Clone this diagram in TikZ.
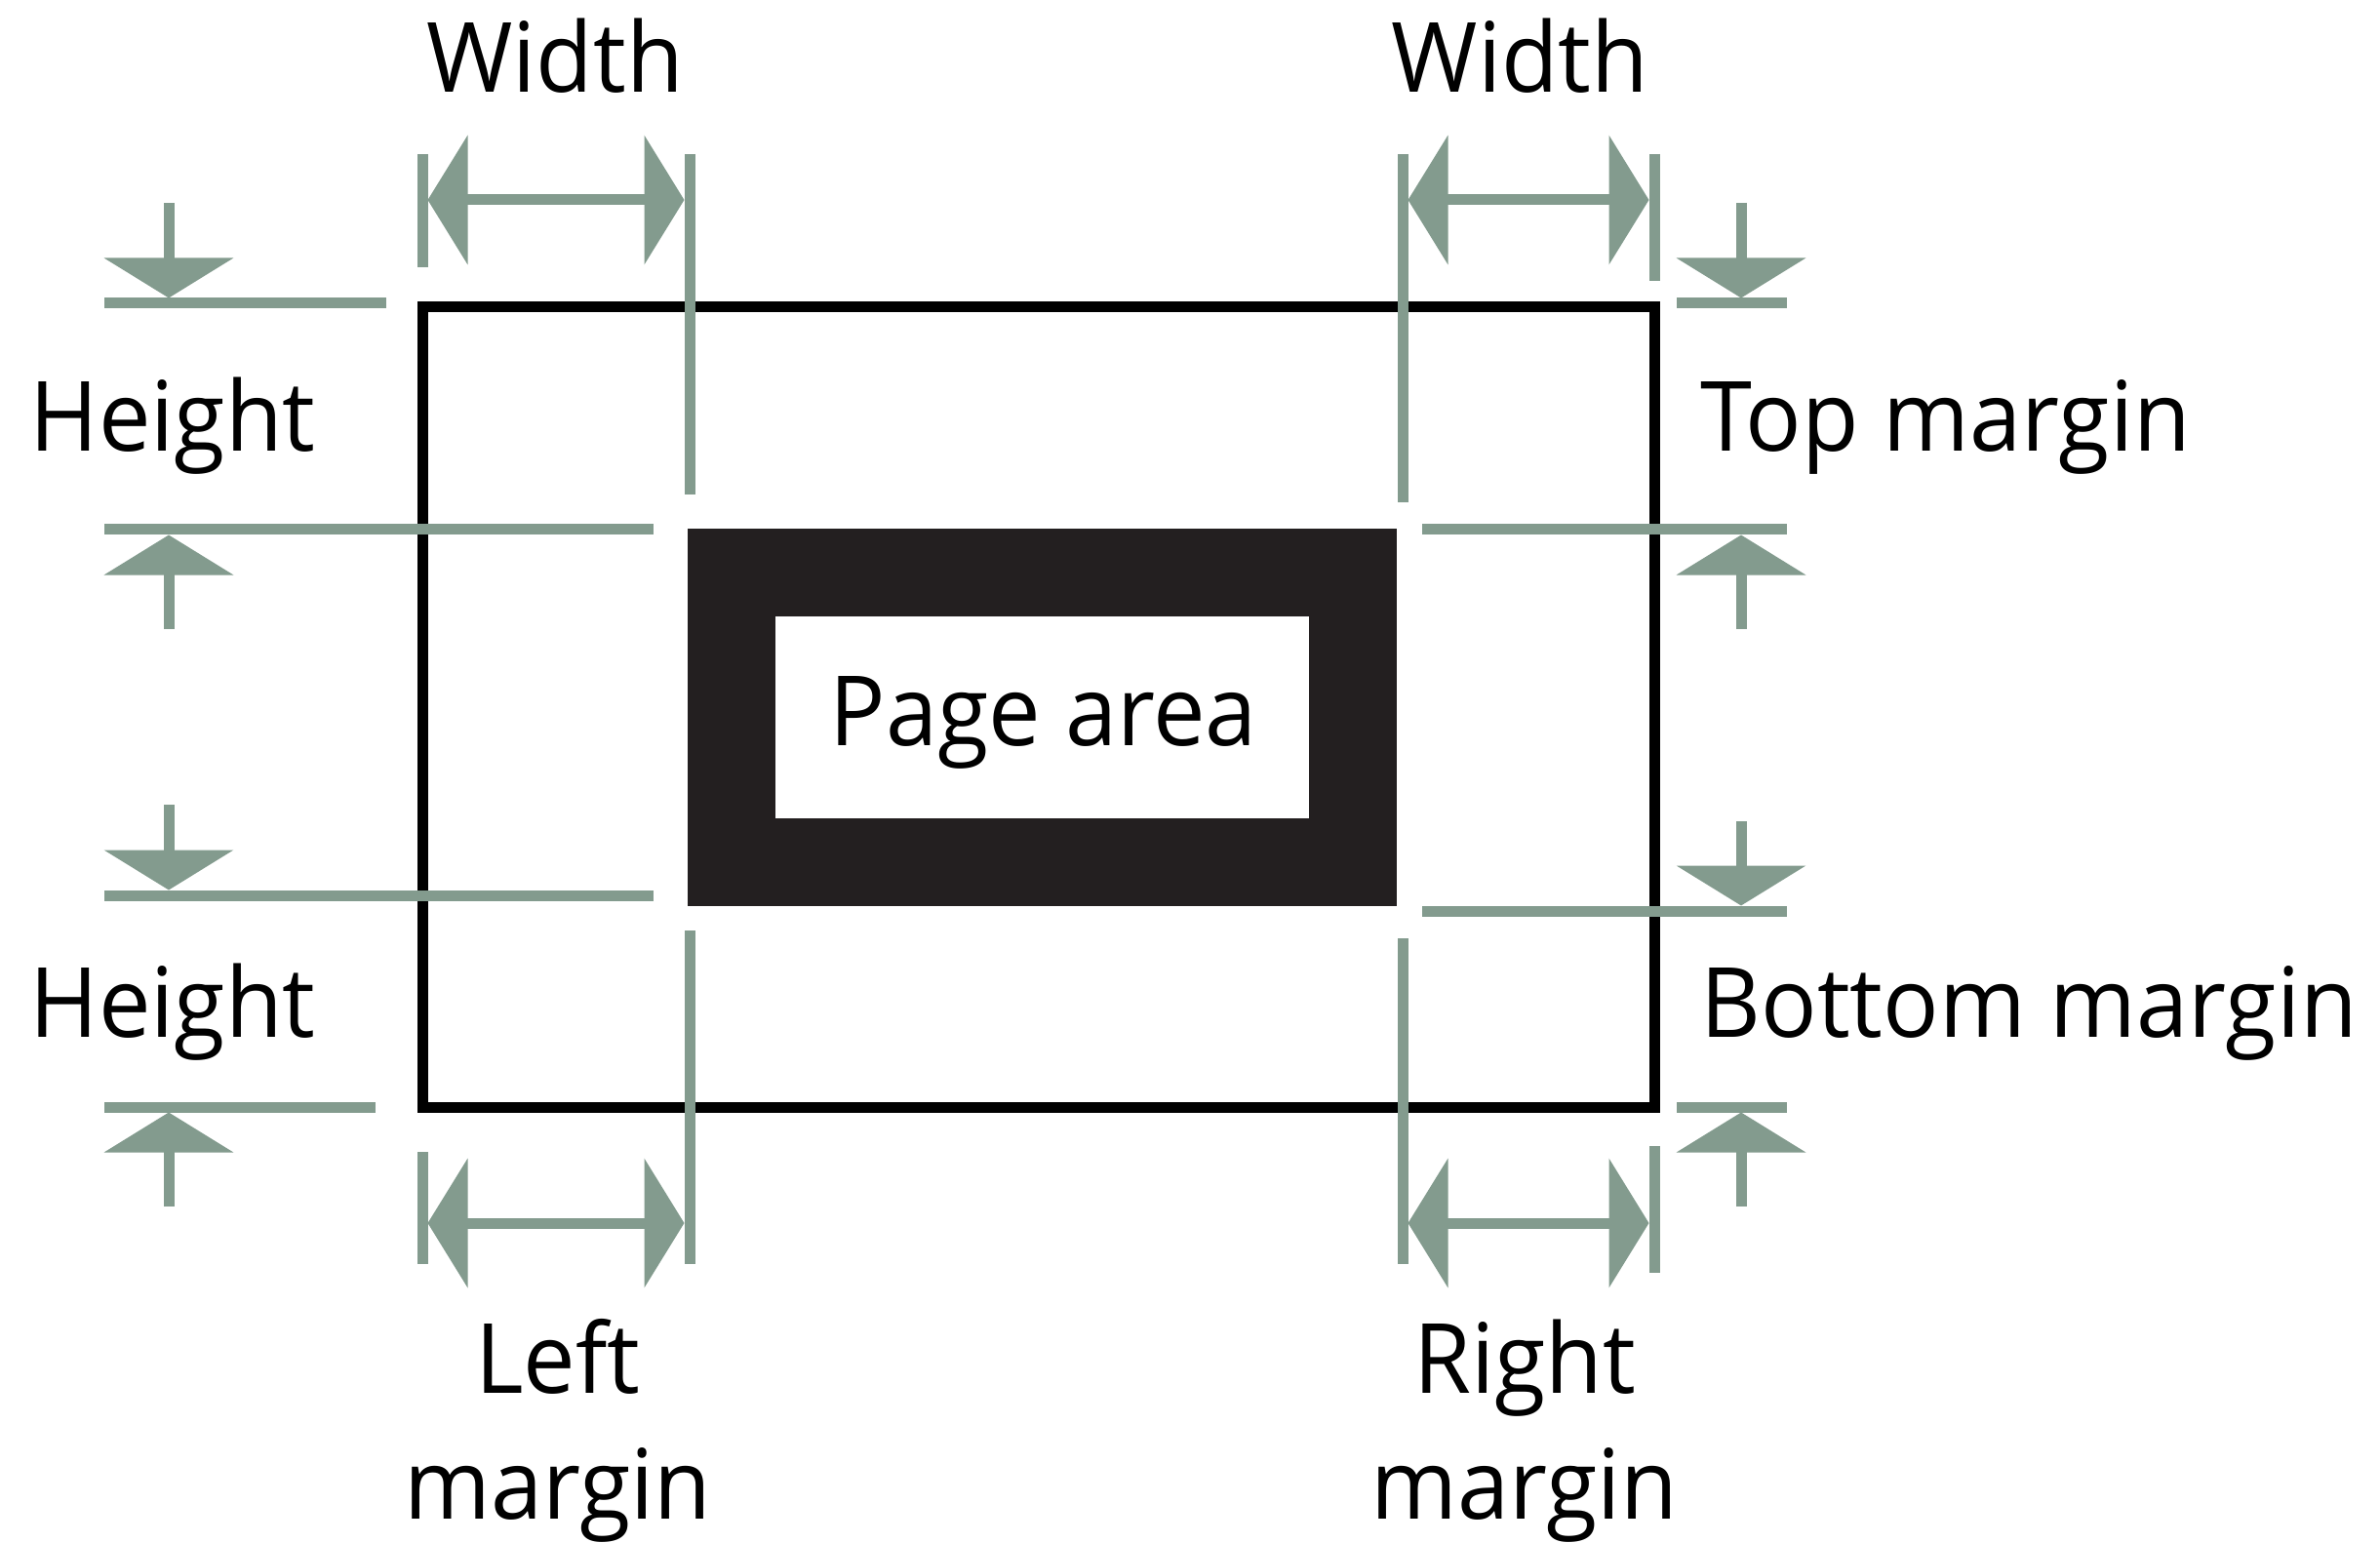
\documentclass[tikz,border=0pt]{standalone}
\usepackage{fontspec}
\setmainfont{Open Sans}[FakeStretch=0.96]
\usetikzlibrary{calc}
\usetikzlibrary{arrows.meta}
\definecolor{sage}{RGB}{131,155,142}
\definecolor{ink}{RGB}{35,31,32}
\newcommand{\lbl}{\fontsize{28.3}{36.7}\selectfont}

\begin{document}
\begin{tikzpicture}[>={Triangle[length=0.41cm,width=1.31cm]},
  guide/.style={color=sage, line width=0.11cm},
  lab/.style={font=\lbl, inner sep=0pt, anchor=base}]
\useasboundingbox (0,0) rectangle (24.40,15.81);

\coordinate (p_nw) at (4.33,12.66);
\coordinate (p_se) at (16.96,4.46);
\coordinate (a_nw) at (7.05,10.39);
\coordinate (a_se) at (14.32,6.52);
\coordinate(i_nw) at ($(a_nw)+(0.90,-0.90)$);
\coordinate(i_se) at ($(a_se)+(-0.90,0.90)$);

% paper and page area
\draw [line width=0.11cm] (p_nw) rectangle (p_se);
\fill [ink] (a_nw) rectangle (a_se);
\fill [white] (i_nw) rectangle (i_se);
\node [lab] (area) at (10.70,8.17) {Page area};

% vertical guides
\draw [guide] (4.33,14.23)--(4.33,13.07);
\draw [guide] (4.33,4.00)--(4.33,2.85);
\draw [guide] (7.07,14.23)--(7.07,10.74);
\draw [guide] (7.07,6.27)--(7.07,2.85);
\draw [guide] (14.38,14.23)--(14.38,10.66);
\draw [guide] (14.38,6.19)--(14.38,2.85);
\draw [guide] (16.96,14.23)--(16.96,12.93);
\draw [guide] (16.96,4.06)--(16.96,2.76);

% horizontal guides
\draw [guide] (1.07,12.70)--(3.96,12.70);
\draw [guide] (1.07,10.38)--(6.70,10.38);
\draw [guide] (1.07,6.63)--(6.70,6.63);
\draw [guide] (1.07,4.46)--(3.85,4.46);
\draw [guide] (17.19,12.70)--(18.32,12.70);
\draw [guide] (14.58,10.38)--(18.32,10.38);
\draw [guide] (14.58,6.47)--(18.32,6.47);
\draw [guide] (17.19,4.46)--(18.32,4.46);

% width arrows
\draw [guide,<->] (4.385,13.76)--(7.015,13.76);
\draw [guide,<->] (14.435,13.76)--(16.905,13.76);
\draw [guide,<->] (4.385,3.27)--(7.015,3.27);
\draw [guide,<->] (14.435,3.27)--(16.905,3.27);

% height arrows
\draw [guide,->] (1.73,13.73)--(1.73,12.755);
\draw [guide,->] (1.73,9.36)--(1.73,10.325);
\draw [guide,->] (1.73,7.56)--(1.73,6.685);
\draw [guide,->] (1.73,3.44)--(1.73,4.405);
\draw [guide,->] (17.85,13.73)--(17.85,12.755);
\draw [guide,->] (17.85,9.36)--(17.85,10.325);
\draw [guide,->] (17.85,7.39)--(17.85,6.525);
\draw [guide,->] (17.85,3.44)--(17.85,4.405);

% labels
\node [lab] (w_l) at (5.69,14.86) {Width};
\node [lab] (w_r) at (15.585,14.86) {Width};
\node [lab] (h_t) at (1.77,11.18) {Height};
\node [lab] (h_b) at (1.77,5.18) {Height};
\node [lab, anchor=base west] (tm) at (17.43,11.18) {Top margin};
\node [lab, anchor=base west] (bm) at (17.43,5.18) {Bottom margin};
\node [lab, align=center] (lm) at (5.72,0.24) {Left\\margin};
\node [lab, align=center] (rm) at (15.63,0.24) {Right\\margin};

\end{tikzpicture}
\end{document}
